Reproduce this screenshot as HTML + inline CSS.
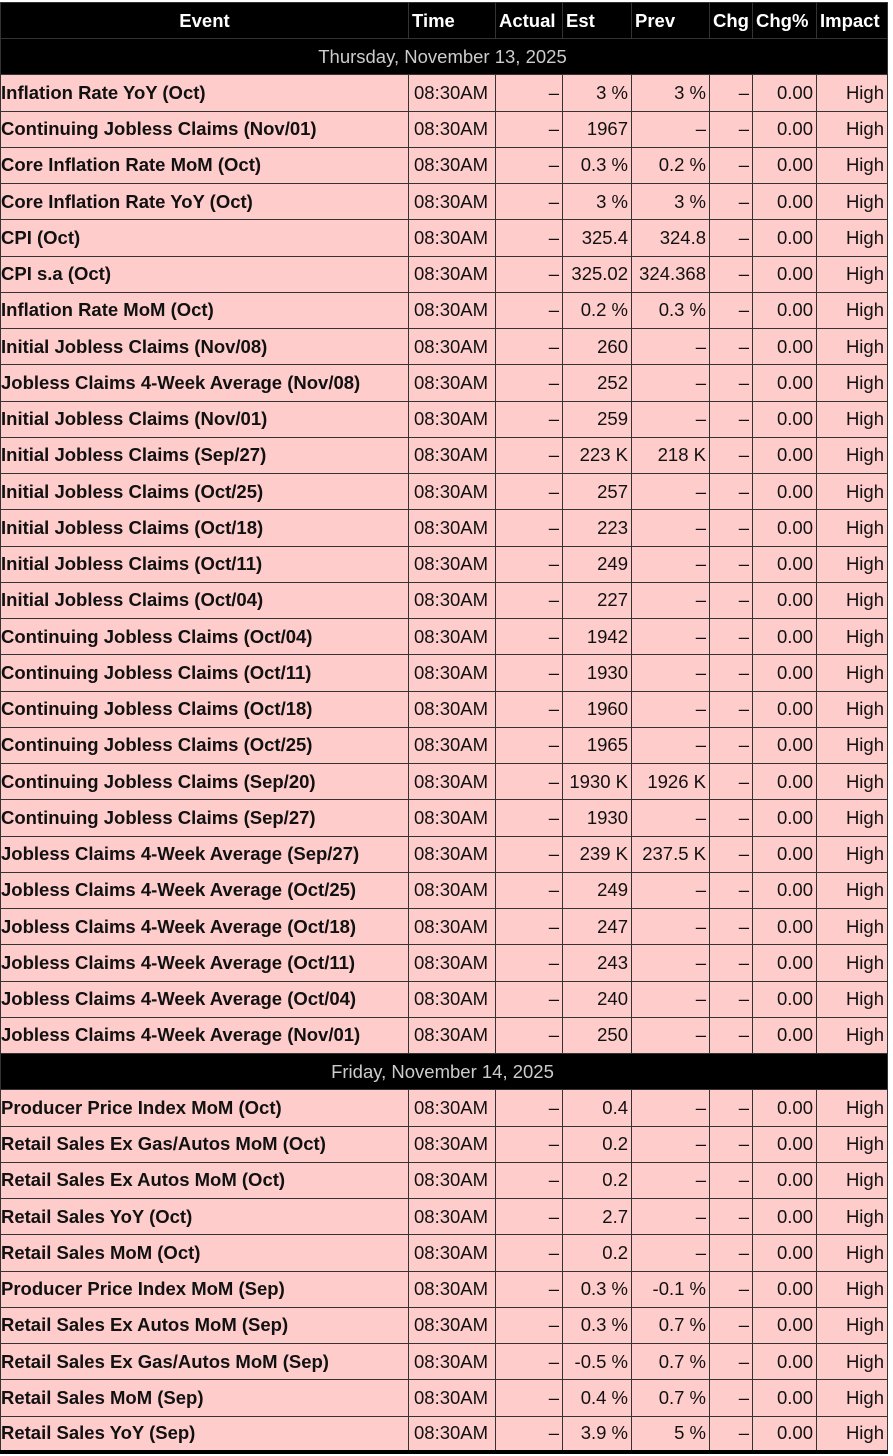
<!DOCTYPE html>
<html><head><meta charset="utf-8">
<style>
html,body{margin:0;padding:0;background:#fff;}
body{width:893px;height:1456px;overflow:hidden;position:relative;}
table{position:absolute;left:0;top:2px;border-collapse:collapse;table-layout:fixed;width:887px;font-family:"Liberation Sans",Arial,sans-serif;font-size:18.5px;}
td,th{border:1px solid #333;padding:0 3px;height:36.25px;box-sizing:border-box;white-space:nowrap;overflow:hidden;line-height:20px;}
th{background:#000;color:#fff;font-weight:bold;text-align:left;height:36px;}
th:first-child{text-align:center;}
td{background:#ffcccc;color:#111;text-align:right;}
td:first-child{text-align:left;font-weight:bold;padding-left:0;}
td:nth-child(2){text-align:left;padding-left:5px;}
tr.d td{background:#000;color:#ccc;text-align:center;font-weight:normal;}
tbody tr:last-child td{border-bottom:4px solid #000;}
</style></head><body>
<table>
<colgroup><col style="width:408px"><col style="width:87px"><col style="width:67px"><col style="width:69px"><col style="width:78px"><col style="width:43px"><col style="width:64px"><col style="width:71px"></colgroup>
<thead><tr><th>Event</th><th>Time</th><th>Actual</th><th>Est</th><th>Prev</th><th>Chg</th><th>Chg%</th><th>Impact</th></tr></thead>
<tbody>
<tr class="d"><td colspan="8">Thursday, November 13, 2025</td></tr>
<tr><td>Inflation Rate YoY (Oct)</td><td>08:30AM</td><td>–</td><td>3 %</td><td>3 %</td><td>–</td><td>0.00</td><td>High</td></tr>
<tr><td>Continuing Jobless Claims (Nov/01)</td><td>08:30AM</td><td>–</td><td>1967</td><td>–</td><td>–</td><td>0.00</td><td>High</td></tr>
<tr><td>Core Inflation Rate MoM (Oct)</td><td>08:30AM</td><td>–</td><td>0.3 %</td><td>0.2 %</td><td>–</td><td>0.00</td><td>High</td></tr>
<tr><td>Core Inflation Rate YoY (Oct)</td><td>08:30AM</td><td>–</td><td>3 %</td><td>3 %</td><td>–</td><td>0.00</td><td>High</td></tr>
<tr><td>CPI (Oct)</td><td>08:30AM</td><td>–</td><td>325.4</td><td>324.8</td><td>–</td><td>0.00</td><td>High</td></tr>
<tr><td>CPI s.a (Oct)</td><td>08:30AM</td><td>–</td><td>325.02</td><td>324.368</td><td>–</td><td>0.00</td><td>High</td></tr>
<tr><td>Inflation Rate MoM (Oct)</td><td>08:30AM</td><td>–</td><td>0.2 %</td><td>0.3 %</td><td>–</td><td>0.00</td><td>High</td></tr>
<tr><td>Initial Jobless Claims (Nov/08)</td><td>08:30AM</td><td>–</td><td>260</td><td>–</td><td>–</td><td>0.00</td><td>High</td></tr>
<tr><td>Jobless Claims 4-Week Average (Nov/08)</td><td>08:30AM</td><td>–</td><td>252</td><td>–</td><td>–</td><td>0.00</td><td>High</td></tr>
<tr><td>Initial Jobless Claims (Nov/01)</td><td>08:30AM</td><td>–</td><td>259</td><td>–</td><td>–</td><td>0.00</td><td>High</td></tr>
<tr><td>Initial Jobless Claims (Sep/27)</td><td>08:30AM</td><td>–</td><td>223 K</td><td>218 K</td><td>–</td><td>0.00</td><td>High</td></tr>
<tr><td>Initial Jobless Claims (Oct/25)</td><td>08:30AM</td><td>–</td><td>257</td><td>–</td><td>–</td><td>0.00</td><td>High</td></tr>
<tr><td>Initial Jobless Claims (Oct/18)</td><td>08:30AM</td><td>–</td><td>223</td><td>–</td><td>–</td><td>0.00</td><td>High</td></tr>
<tr><td>Initial Jobless Claims (Oct/11)</td><td>08:30AM</td><td>–</td><td>249</td><td>–</td><td>–</td><td>0.00</td><td>High</td></tr>
<tr><td>Initial Jobless Claims (Oct/04)</td><td>08:30AM</td><td>–</td><td>227</td><td>–</td><td>–</td><td>0.00</td><td>High</td></tr>
<tr><td>Continuing Jobless Claims (Oct/04)</td><td>08:30AM</td><td>–</td><td>1942</td><td>–</td><td>–</td><td>0.00</td><td>High</td></tr>
<tr><td>Continuing Jobless Claims (Oct/11)</td><td>08:30AM</td><td>–</td><td>1930</td><td>–</td><td>–</td><td>0.00</td><td>High</td></tr>
<tr><td>Continuing Jobless Claims (Oct/18)</td><td>08:30AM</td><td>–</td><td>1960</td><td>–</td><td>–</td><td>0.00</td><td>High</td></tr>
<tr><td>Continuing Jobless Claims (Oct/25)</td><td>08:30AM</td><td>–</td><td>1965</td><td>–</td><td>–</td><td>0.00</td><td>High</td></tr>
<tr><td>Continuing Jobless Claims (Sep/20)</td><td>08:30AM</td><td>–</td><td>1930 K</td><td>1926 K</td><td>–</td><td>0.00</td><td>High</td></tr>
<tr><td>Continuing Jobless Claims (Sep/27)</td><td>08:30AM</td><td>–</td><td>1930</td><td>–</td><td>–</td><td>0.00</td><td>High</td></tr>
<tr><td>Jobless Claims 4-Week Average (Sep/27)</td><td>08:30AM</td><td>–</td><td>239 K</td><td>237.5 K</td><td>–</td><td>0.00</td><td>High</td></tr>
<tr><td>Jobless Claims 4-Week Average (Oct/25)</td><td>08:30AM</td><td>–</td><td>249</td><td>–</td><td>–</td><td>0.00</td><td>High</td></tr>
<tr><td>Jobless Claims 4-Week Average (Oct/18)</td><td>08:30AM</td><td>–</td><td>247</td><td>–</td><td>–</td><td>0.00</td><td>High</td></tr>
<tr><td>Jobless Claims 4-Week Average (Oct/11)</td><td>08:30AM</td><td>–</td><td>243</td><td>–</td><td>–</td><td>0.00</td><td>High</td></tr>
<tr><td>Jobless Claims 4-Week Average (Oct/04)</td><td>08:30AM</td><td>–</td><td>240</td><td>–</td><td>–</td><td>0.00</td><td>High</td></tr>
<tr><td>Jobless Claims 4-Week Average (Nov/01)</td><td>08:30AM</td><td>–</td><td>250</td><td>–</td><td>–</td><td>0.00</td><td>High</td></tr>
<tr class="d"><td colspan="8">Friday, November 14, 2025</td></tr>
<tr><td>Producer Price Index MoM (Oct)</td><td>08:30AM</td><td>–</td><td>0.4</td><td>–</td><td>–</td><td>0.00</td><td>High</td></tr>
<tr><td>Retail Sales Ex Gas/Autos MoM (Oct)</td><td>08:30AM</td><td>–</td><td>0.2</td><td>–</td><td>–</td><td>0.00</td><td>High</td></tr>
<tr><td>Retail Sales Ex Autos MoM (Oct)</td><td>08:30AM</td><td>–</td><td>0.2</td><td>–</td><td>–</td><td>0.00</td><td>High</td></tr>
<tr><td>Retail Sales YoY (Oct)</td><td>08:30AM</td><td>–</td><td>2.7</td><td>–</td><td>–</td><td>0.00</td><td>High</td></tr>
<tr><td>Retail Sales MoM (Oct)</td><td>08:30AM</td><td>–</td><td>0.2</td><td>–</td><td>–</td><td>0.00</td><td>High</td></tr>
<tr><td>Producer Price Index MoM (Sep)</td><td>08:30AM</td><td>–</td><td>0.3 %</td><td>-0.1 %</td><td>–</td><td>0.00</td><td>High</td></tr>
<tr><td>Retail Sales Ex Autos MoM (Sep)</td><td>08:30AM</td><td>–</td><td>0.3 %</td><td>0.7 %</td><td>–</td><td>0.00</td><td>High</td></tr>
<tr><td>Retail Sales Ex Gas/Autos MoM (Sep)</td><td>08:30AM</td><td>–</td><td>-0.5 %</td><td>0.7 %</td><td>–</td><td>0.00</td><td>High</td></tr>
<tr><td>Retail Sales MoM (Sep)</td><td>08:30AM</td><td>–</td><td>0.4 %</td><td>0.7 %</td><td>–</td><td>0.00</td><td>High</td></tr>
<tr><td>Retail Sales YoY (Sep)</td><td>08:30AM</td><td>–</td><td>3.9 %</td><td>5 %</td><td>–</td><td>0.00</td><td>High</td></tr>
</tbody></table>
</body></html>
